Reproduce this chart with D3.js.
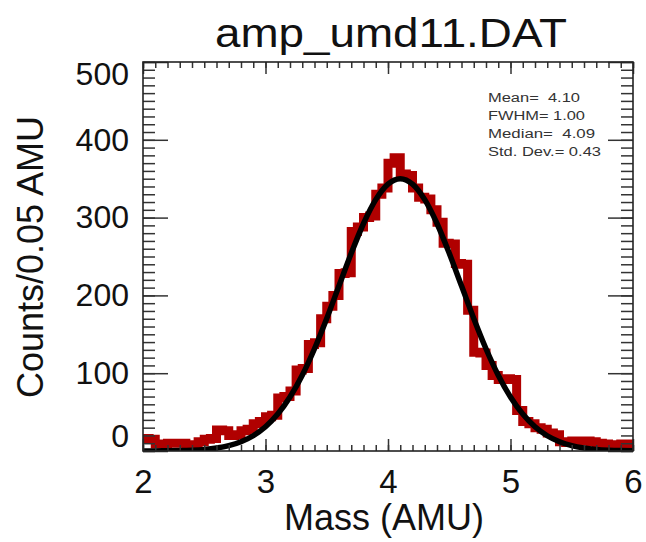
<!DOCTYPE html>
<html><head><meta charset="utf-8">
<script src="https://cdn.jsdelivr.net/npm/d3@7"></script>
<style>body{margin:0;background:#fff}svg{display:block}text{font-family:"Liberation Sans",Arial,sans-serif}</style>
</head><body>
<svg id="c" width="646" height="542"></svg>
<script>
// ---- data ----
const binStart = 2.0;
const binWidth = 0.05;
const counts = [16,15,9,9,10,10,10,7,8,12,
  15,16,27,26,20,21,26,28,35,38,
  44,46,68,70,77,104,106,137,139,170,
  186,200,228,229,282,288,300,302,330,338,
  370,377,356,354,338,326,324,310,294,267,
  266,241,240,181,127,126,110,97,92,93,
  92,52,38,35,30,28,23,21,12,11,
  13,13,13,12,10,9,8,8,9,9];
const fitX = [2.0,2.1,2.2,2.3,2.4,2.5,2.6,2.7,2.8,2.9,3.0,3.1,3.2,3.3,3.4,3.5,3.6,3.7,3.8,3.9,
  4.0,4.1,4.2,4.3,4.4,4.5,4.6,4.7,4.8,4.9,5.0,5.1,5.2,5.3,5.4,5.5,5.6,5.7,5.8,5.9,6.0];
const fitY = [0.05,0.12,0.26,0.54,1.1,2.1,3.9,6.9,11.9,19.6,31.1,47.4,69.3,97.3,131.4,170.4,212.3,254.1,292.4,323.1,
  343.1,350,343.1,323.1,292.4,254.1,212.3,170.4,131.4,97.3,69.3,47.4,31.1,19.6,11.9,6.9,3.9,2.1,1.1,0.54,0.26];
const xTicks = [2,3,4,5,6];
const yTicks = [0,100,200,300,400,500];
const statLines = ["Mean=  4.10","FWHM= 1.00","Median=  4.09","Std. Dev.= 0.43"];
const titleText = "amp_umd11.DAT";
const xLabel = "Mass (AMU)";
const yLabel = "Counts/0.05 AMU";

// ---- layout ----
const L = 143, R = 633, T = 62, B = 451;
const svg = d3.select("#c");
const x = d3.scaleLinear().domain([2,6]).range([L,R]);
const y = d3.scaleLinear().domain([0,500]).range([B,T]);

svg.append("defs").append("clipPath").attr("id","clip")
  .append("rect").attr("x",L).attr("y",T).attr("width",R-L).attr("height",B-T);

const plot = svg.append("g").attr("clip-path","url(#clip)");

// histogram (stepped)
const histPts = counts.map((c,i)=>[binStart+i*binWidth, c]);
histPts.push([binStart+counts.length*binWidth, counts[counts.length-1]]);
plot.append("path").datum(histPts)
  .attr("d", d3.line().x(d=>x(d[0])).y(d=>y(d[1])).curve(d3.curveStepAfter))
  .attr("fill","none").attr("stroke","#b00000").attr("stroke-width",9)
  .attr("stroke-linejoin","miter");

// fit curve
plot.append("path").datum(fitX.map((v,i)=>[v,fitY[i]]))
  .attr("d", d3.line().x(d=>x(d[0])).y(d=>y(d[1])).curve(d3.curveMonotoneX))
  .attr("fill","none").attr("stroke","#000").attr("stroke-width",5.5);

// axes
const tickCol = "#333";
function style(g){ g.select(".domain").remove(); g.selectAll("line").attr("stroke",tickCol).attr("stroke-width",1.5); }
const minorX = d3.range(20,61).map(v=>v/10);
const minorY = d3.range(0,51).map(v=>v*10);

svg.append("g").attr("transform",`translate(0,${B})`).call(d3.axisBottom(x).tickValues(minorX).tickSize(-6).tickFormat("")).call(style);
svg.append("g").attr("transform",`translate(0,${T})`).call(d3.axisTop(x).tickValues(minorX).tickSize(-6).tickFormat("")).call(style);
svg.append("g").attr("transform",`translate(${L},0)`).call(d3.axisLeft(y).tickValues(minorY).tickSize(-12).tickFormat("")).call(style);
svg.append("g").attr("transform",`translate(${R},0)`).call(d3.axisRight(y).tickValues(minorY).tickSize(-12).tickFormat("")).call(style);

const xb = svg.append("g").attr("transform",`translate(0,${B})`)
  .call(d3.axisBottom(x).tickValues(xTicks).tickSize(-12).tickFormat(d3.format("d"))).call(style);
xb.selectAll("text").attr("dy",null).attr("y",42).attr("font-size",33).attr("fill","#111");
svg.append("g").attr("transform",`translate(0,${T})`)
  .call(d3.axisTop(x).tickValues(xTicks).tickSize(-12).tickFormat("")).call(style);
const yl = svg.append("g").attr("transform",`translate(${L},0)`)
  .call(d3.axisLeft(y).tickValues(yTicks).tickSize(-25).tickPadding(14).tickFormat(d3.format("d"))).call(style);
yl.selectAll("text").attr("font-size",32).attr("fill","#111")
  .attr("y", d => d===500 ? 12 : (d===0 ? -15 : 0));
svg.append("g").attr("transform",`translate(${R},0)`)
  .call(d3.axisRight(y).tickValues(yTicks).tickSize(-25).tickFormat("")).call(style);

// frame
svg.append("rect").attr("x",L).attr("y",T).attr("width",R-L).attr("height",B-T)
  .attr("fill","none").attr("stroke","#222").attr("stroke-width",1.6);

// title & labels
svg.append("text").attr("x",391).attr("y",47).attr("text-anchor","middle")
  .attr("font-size",40).attr("fill","#111").attr("textLength",352).attr("lengthAdjust","spacingAndGlyphs").text(titleText);
svg.append("text").attr("x",384).attr("y",530).attr("text-anchor","middle")
  .attr("font-size",36).attr("fill","#111").text(xLabel);
svg.append("text").attr("transform","translate(43,257) rotate(-90)").attr("text-anchor","middle")
  .attr("font-size",36).attr("fill","#111").text(yLabel);

// stats
const statW = [92,97,107,113];
svg.append("g").selectAll("text").data(statLines).join("text")
  .attr("x",488).attr("y",(d,i)=>102+i*18)
  .attr("font-size",12.5).attr("fill","#333").style("white-space","pre")
  .attr("textLength",(d,i)=>statW[i]).attr("lengthAdjust","spacingAndGlyphs")
  .text(d=>d);
</script>
</body></html>
